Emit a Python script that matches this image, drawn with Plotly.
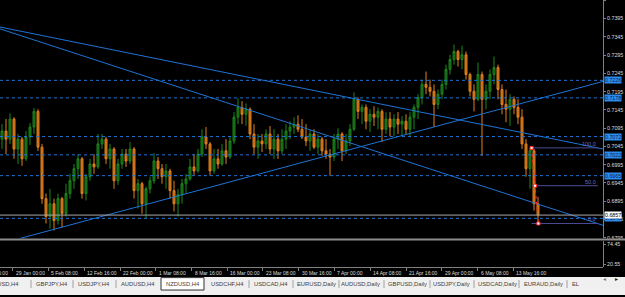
import plotly.graph_objects as go

W, H = 625, 297

# ---------------- data (NZDUSD, H4) ----------------
bar_open = [0.7065, 0.7087, 0.7065, 0.7120, 0.7038, 0.7065, 0.7011, 0.7071, 0.7098, 0.7141,
            0.7043, 0.6902, 0.6853, 0.6888, 0.6842, 0.6902, 0.6861, 0.6916, 0.6951, 0.6984,
            0.7011, 0.6916, 0.6962, 0.6997, 0.6989, 0.7052, 0.7065, 0.7011, 0.7038, 0.6951,
            0.6997, 0.7024, 0.7005, 0.7038, 0.6924, 0.6943, 0.6888, 0.6929, 0.6951, 0.7005,
            0.6984, 0.6962, 0.6978, 0.6924, 0.6888, 0.6913, 0.6943, 0.6956, 0.6989, 0.6978,
            0.7024, 0.7071, 0.7052, 0.6978, 0.7011, 0.6997, 0.7033, 0.7016, 0.7060, 0.7125,
            0.7152, 0.7133, 0.7147, 0.7079, 0.7043, 0.7060, 0.7052, 0.7079, 0.7038, 0.7065,
            0.7033, 0.7065, 0.7087, 0.7098, 0.7106, 0.7092, 0.7071, 0.7060, 0.7079, 0.7043,
            0.7065, 0.7033, 0.7024, 0.7016, 0.7065, 0.7079, 0.7033, 0.7060, 0.7092, 0.7174,
            0.7141, 0.7152, 0.7114, 0.7133, 0.7125, 0.7141, 0.7092, 0.7120, 0.7098, 0.7120,
            0.7106, 0.7114, 0.7092, 0.7125, 0.7152, 0.7179, 0.7215, 0.7207, 0.7196, 0.7160,
            0.7188, 0.7215, 0.7256, 0.7283, 0.7305, 0.7283, 0.7296, 0.7242, 0.7196, 0.7174,
            0.7242, 0.7174, 0.7196, 0.7242, 0.7261, 0.7201, 0.7160, 0.7147, 0.7174, 0.7152,
            0.7125, 0.7052, 0.6984, 0.7033, 0.6888]
bar_high = [0.7106, 0.7120, 0.7136, 0.7125, 0.7079, 0.7071, 0.7087, 0.7109, 0.7150, 0.7147,
            0.7052, 0.6916, 0.6929, 0.6902, 0.6916, 0.6907, 0.6943, 0.6970, 0.6997, 0.7024,
            0.7016, 0.6970, 0.7011, 0.7024, 0.7079, 0.7079, 0.7071, 0.7052, 0.7043, 0.7011,
            0.7038, 0.7038, 0.7057, 0.7043, 0.6956, 0.6948, 0.6935, 0.6962, 0.7027, 0.7016,
            0.6997, 0.6997, 0.6984, 0.6951, 0.6929, 0.6956, 0.6970, 0.7011, 0.7024, 0.7038,
            0.7092, 0.7098, 0.7057, 0.7038, 0.7038, 0.7052, 0.7065, 0.7071, 0.7139, 0.7177,
            0.7169, 0.7163, 0.7152, 0.7106, 0.7079, 0.7079, 0.7092, 0.7101, 0.7092, 0.7079,
            0.7092, 0.7106, 0.7114, 0.7125, 0.7130, 0.7120, 0.7106, 0.7092, 0.7092, 0.7079,
            0.7071, 0.7065, 0.7038, 0.7079, 0.7095, 0.7084, 0.7079, 0.7106, 0.7193, 0.7179,
            0.7160, 0.7160, 0.7147, 0.7155, 0.7152, 0.7147, 0.7139, 0.7139, 0.7133, 0.7139,
            0.7128, 0.7133, 0.7139, 0.7160, 0.7188, 0.7228, 0.7250, 0.7228, 0.7215, 0.7201,
            0.7228, 0.7269, 0.7296, 0.7324, 0.7310, 0.7321, 0.7305, 0.7247, 0.7215, 0.7275,
            0.7250, 0.7215, 0.7256, 0.7291, 0.7269, 0.7215, 0.7201, 0.7188, 0.7182, 0.7174,
            0.7147, 0.7065, 0.7041, 0.7038, 0.6907]
bar_low = [0.7038, 0.7024, 0.7052, 0.7011, 0.6997, 0.6992, 0.7005, 0.7049, 0.7079, 0.7033,
           0.6888, 0.6834, 0.6820, 0.6815, 0.6831, 0.6823, 0.6853, 0.6902, 0.6929, 0.6956,
           0.6902, 0.6897, 0.6951, 0.6970, 0.6984, 0.7038, 0.6997, 0.6984, 0.6929, 0.6940,
           0.6984, 0.6989, 0.6997, 0.6902, 0.6875, 0.6861, 0.6848, 0.6916, 0.6943, 0.6956,
           0.6943, 0.6929, 0.6902, 0.6867, 0.6853, 0.6888, 0.6916, 0.6951, 0.6967, 0.6973,
           0.7016, 0.7038, 0.6965, 0.6970, 0.6984, 0.6992, 0.6997, 0.7011, 0.7052, 0.7106,
           0.7106, 0.7101, 0.7065, 0.7024, 0.7011, 0.7030, 0.7038, 0.7024, 0.7011, 0.7011,
           0.7024, 0.7038, 0.7065, 0.7079, 0.7084, 0.7065, 0.7046, 0.7033, 0.7038, 0.7024,
           0.7019, 0.7011, 0.6965, 0.7005, 0.7038, 0.7005, 0.7024, 0.7046, 0.7087, 0.7120,
           0.7106, 0.7092, 0.7084, 0.7101, 0.7092, 0.7057, 0.7079, 0.7073, 0.7073, 0.7079,
           0.7073, 0.7079, 0.7071, 0.7092, 0.7120, 0.7160, 0.7188, 0.7182, 0.7098, 0.7147,
           0.7174, 0.7201, 0.7242, 0.7269, 0.7264, 0.7256, 0.7228, 0.7182, 0.7141, 0.7169,
           0.7019, 0.7147, 0.7174, 0.7215, 0.7174, 0.7133, 0.7111, 0.7101, 0.7133, 0.7106,
           0.7038, 0.6962, 0.6929, 0.6869, 0.6834]
bar_close = [0.7087, 0.7065, 0.7120, 0.7038, 0.7065, 0.7011, 0.7071, 0.7098, 0.7141, 0.7043,
             0.6902, 0.6853, 0.6888, 0.6842, 0.6902, 0.6861, 0.6916, 0.6951, 0.6984, 0.7011,
             0.6916, 0.6962, 0.6997, 0.6989, 0.7052, 0.7065, 0.7011, 0.7038, 0.6951, 0.6997,
             0.7024, 0.7005, 0.7038, 0.6924, 0.6943, 0.6888, 0.6929, 0.6951, 0.7005, 0.6984,
             0.6962, 0.6978, 0.6924, 0.6888, 0.6913, 0.6943, 0.6956, 0.6989, 0.6978, 0.7024,
             0.7071, 0.7052, 0.6978, 0.7011, 0.6997, 0.7033, 0.7016, 0.7060, 0.7125, 0.7152,
             0.7133, 0.7147, 0.7079, 0.7043, 0.7060, 0.7052, 0.7079, 0.7038, 0.7065, 0.7033,
             0.7065, 0.7087, 0.7098, 0.7106, 0.7092, 0.7071, 0.7060, 0.7079, 0.7043, 0.7065,
             0.7033, 0.7024, 0.7016, 0.7065, 0.7079, 0.7033, 0.7060, 0.7092, 0.7174, 0.7141,
             0.7152, 0.7114, 0.7133, 0.7125, 0.7141, 0.7092, 0.7120, 0.7098, 0.7120, 0.7106,
             0.7114, 0.7092, 0.7125, 0.7152, 0.7179, 0.7215, 0.7207, 0.7196, 0.7160, 0.7188,
             0.7215, 0.7256, 0.7283, 0.7305, 0.7283, 0.7296, 0.7242, 0.7196, 0.7174, 0.7242,
             0.7174, 0.7196, 0.7242, 0.7261, 0.7201, 0.7160, 0.7147, 0.7174, 0.7152, 0.7125,
             0.7052, 0.6984, 0.7033, 0.6888, 0.6857]

price_ticks = [0.7445, 0.7395, 0.7345, 0.7295, 0.7245, 0.7195, 0.7145,
               0.7095, 0.7045, 0.6995, 0.6945, 0.6895, 0.6845, 0.6795]
date_labels = ["29 Jan 00:00", "5 Feb 08:00", "12 Feb 16:00", "22 Feb 00:00", "1 Mar 08:00",
               "8 Mar 16:00", "16 Mar 00:00", "23 Mar 08:00", "30 Mar 16:00", "7 Apr 00:00",
               "14 Apr 08:00", "21 Apr 16:00", "29 Apr 00:00", "6 May 08:00", "13 May 16:00"]
date_tick_bars = [2.7, 11.6, 20.6, 29.5, 38.4, 47.4, 56.3, 65.2, 74.2, 83.1,
                  92.1, 101.0, 109.9, 118.9, 127.8]
level_prices = [0.7226, 0.7178, 0.7072, 0.7022, 0.6965, 0.6848]
bid_price = 0.6857
trend_x = [[-0.5, 150.25], [-0.5, 150.25], [4.5, 150.25]]
trend_y = [[0.7372, 0.7038], [0.7367, 0.6829], [0.6793, 0.7223]]
fib_anchor_x = [132.4, 134.1]
fib_anchor_p = [0.7041, 0.6834]
fib_levels = [100.0, 50.0, 0.0]
fib_end_x = 149.0
sub_ticks = [74.45, 20.55]
tab_labels = ["GBPUSD,H4", "GBPJPY,H4", "USDJPY,H4", "AUDUSD,H4", "NZDUSD,H4", "USDCHF,H4",
              "USDCAD,H4", "EURUSD,Daily", "AUDUSD,Daily", "GBPUSD,Daily", "USDJPY,Daily",
              "USDCAD,Daily", "EURAUD,Daily", "EL"]
active_tab = "NZDUSD,H4"

# ---------------- styling ----------------
BLUE = "#1E74D6"
GRAY = "#808080"
TXT = "#DCDCDC"
FONT = "Liberation Sans"
UP_LINE, UP_FILL = "#1C861C", "#125512"
DN_LINE, DN_FILL = "#E0821C", "#B8620F"
XMAX = 603


def py(p):  # pixel row -> paper y
    return 1 - p / H


def px(p):  # pixel column -> paper x
    return p / W


fig = go.Figure()
idx = list(range(len(bar_close)))
fig.add_trace(go.Candlestick(
    x=idx, open=bar_open, high=bar_high, low=bar_low, close=bar_close,
    increasing=dict(line=dict(color=UP_LINE, width=1), fillcolor=UP_FILL),
    decreasing=dict(line=dict(color=DN_LINE, width=1), fillcolor=DN_FILL),
    whiskerwidth=0, showlegend=False, hoverinfo="skip"))

for tx, ty in zip(trend_x, trend_y):
    fig.add_trace(go.Scatter(x=tx, y=ty, mode="lines", line=dict(color=BLUE, width=1),
                             showlegend=False, hoverinfo="skip"))

# Fibonacci retracement
f_hi, f_lo = fib_anchor_p
fib_prices = [f_lo + lv / 100.0 * (f_hi - f_lo) for lv in fib_levels]
for lv, fp in zip(fib_levels, fib_prices):
    fig.add_trace(go.Scatter(x=[fib_anchor_x[0], fib_end_x], y=[fp, fp], mode="lines",
                             line=dict(color="#4C4C96", width=1), showlegend=False,
                             hoverinfo="skip"))
fig.add_trace(go.Scatter(x=fib_anchor_x, y=fib_anchor_p, mode="lines",
                         line=dict(color="#FF2A2A", width=1, dash="dot"),
                         showlegend=False, hoverinfo="skip"))
mid_x = sum(fib_anchor_x) / 2
fig.add_trace(go.Scatter(x=[fib_anchor_x[0], mid_x, fib_anchor_x[1]],
                         y=[f_hi, fib_prices[1], f_lo], mode="markers",
                         marker=dict(symbol="square", size=3, color="white",
                                     line=dict(color="#FF2A2A", width=1)),
                         showlegend=False, hoverinfo="skip"))

# dummy trace so the indicator sub-window axis is drawn
fig.add_trace(go.Scatter(x=[None], y=[None], yaxis="y2", showlegend=False, hoverinfo="skip"))

shapes = []
for lp in level_prices:
    shapes.append(dict(type="line", xref="x domain", x0=0, x1=1, yref="y", y0=lp, y1=lp,
                       line=dict(color=BLUE, width=1, dash="dot")))
shapes.append(dict(type="line", xref="x domain", x0=0, x1=1, yref="y", y0=bid_price,
                   y1=bid_price, line=dict(color="#A8A8A8", width=1)))
# separator between main window and sub-window
shapes.append(dict(type="line", xref="paper", yref="paper", x0=0, x1=1, y0=py(241), y1=py(241),
                   line=dict(color="#8C8C8C", width=2)))
# tab bar
shapes.append(dict(type="rect", xref="paper", yref="paper", x0=0, x1=1, y0=0, y1=py(279),
                   fillcolor="#F0F0F0", line=dict(width=0), layer="above"))

annotations = []
# price boxes on the right scale
for lp in level_prices:
    annotations.append(dict(x=1, xref="x domain", y=lp, yref="y", xanchor="left",
                            yanchor="middle", xshift=1, text=f"{lp:.4f}", showarrow=False,
                            bgcolor="#2D8CF0", borderpad=0,
                            font=dict(family=FONT, size=5.3, color="#0A2050")))
annotations.append(dict(x=1, xref="x domain", y=bid_price, yref="y", xanchor="left",
                        yanchor="middle", xshift=1, text=f"{bid_price:.4f}", showarrow=False,
                        bgcolor="white", borderpad=0,
                        font=dict(family=FONT, size=5.3, color="black")))
# fib labels
for lv, fp in zip(fib_levels, fib_prices):
    annotations.append(dict(x=fib_end_x, xref="x", y=fp, yref="y", xanchor="right",
                            yanchor="bottom", yshift=-1, text=f"{lv:.1f}", showarrow=False,
                            font=dict(family=FONT, size=5.5, color="#6A6AC0")))
# date labels
for b, lab in zip(date_tick_bars, date_labels):
    annotations.append(dict(x=b, xref="x", y=py(275), yref="paper", xanchor="left",
                            yanchor="middle", xshift=1, text=lab, showarrow=False,
                            font=dict(family=FONT, size=5, color=TXT)))
annotations.append(dict(x=px(-23), xref="paper", y=py(275), yref="paper", xanchor="left",
                        yanchor="middle", text="21 Jan 16:00", showarrow=False,
                        font=dict(family=FONT, size=5, color=TXT)))

# tabs
tab_centers = [2, 52, 94, 138, 182.5, 227, 271, 316, 360, 407, 452, 497, 543, 576]
tab_seps = [31, 73, 116, 249, 293, 339, 384, 430, 474, 519, 567]
for lab, cx in zip(tab_labels, tab_centers):
    if lab == active_tab:
        shapes.append(dict(type="rect", xref="paper", yref="paper", x0=px(cx - 21.5),
                           x1=px(cx + 21.5), y0=py(292), y1=py(279.5), fillcolor="white",
                           line=dict(color="#303030", width=1), layer="above"))
    annotations.append(dict(x=px(cx), xref="paper", y=py(286), yref="paper", xanchor="center",
                            yanchor="middle", text=lab, showarrow=False,
                            font=dict(family=FONT, size=5.8, color="#404040")))
for sx in tab_seps:
    shapes.append(dict(type="line", xref="paper", yref="paper", x0=px(sx), x1=px(sx),
                       y0=py(290), y1=py(282), line=dict(color="#A0A0A0", width=1),
                       layer="above"))
annotations.append(dict(x=px(608), xref="paper", y=py(286), yref="paper", text="◂",
                        showarrow=False, font=dict(family=FONT, size=6, color="#808080")))
annotations.append(dict(x=px(620), xref="paper", y=py(286), yref="paper", text="▸",
                        showarrow=False, font=dict(family=FONT, size=6, color="#202020")))

fig.update_layout(
    width=W, height=H, autosize=False,
    margin=dict(l=0, r=0, t=0, b=0, pad=0),
    paper_bgcolor="black", plot_bgcolor="black",
    showlegend=False,
    xaxis=dict(domain=[0, XMAX / W], range=[-0.5, 150.25], anchor="free", position=py(269),
               showgrid=False, zeroline=False, showline=True, linecolor=GRAY, linewidth=1,
               ticks="outside", ticklen=3, tickcolor=GRAY, tickvals=date_tick_bars,
               showticklabels=False, rangeslider=dict(visible=False), fixedrange=True),
    yaxis=dict(domain=[py(240), 1], range=[0.67932, 0.7446], side="right", anchor="x",
               showgrid=False, zeroline=False, showline=True, linecolor=GRAY, linewidth=1,
               ticks="outside", ticklen=2, tickcolor=GRAY, tickvals=price_ticks,
               ticktext=[f"{v:.4f}" for v in price_ticks],
               tickfont=dict(family=FONT, size=5.3, color=TXT), fixedrange=True),
    yaxis2=dict(domain=[py(269), py(243)], range=[12.6, 81.6], side="right", anchor="x",
                showgrid=False, zeroline=False, showline=True, linecolor=GRAY, linewidth=1,
                ticks="outside", ticklen=2, tickcolor=GRAY, tickvals=sub_ticks,
                ticktext=[f"{v:.2f}" for v in sub_ticks],
                tickfont=dict(family=FONT, size=5.3, color=TXT), fixedrange=True),
    shapes=shapes, annotations=annotations,
)

fig.write_html("out.html")
